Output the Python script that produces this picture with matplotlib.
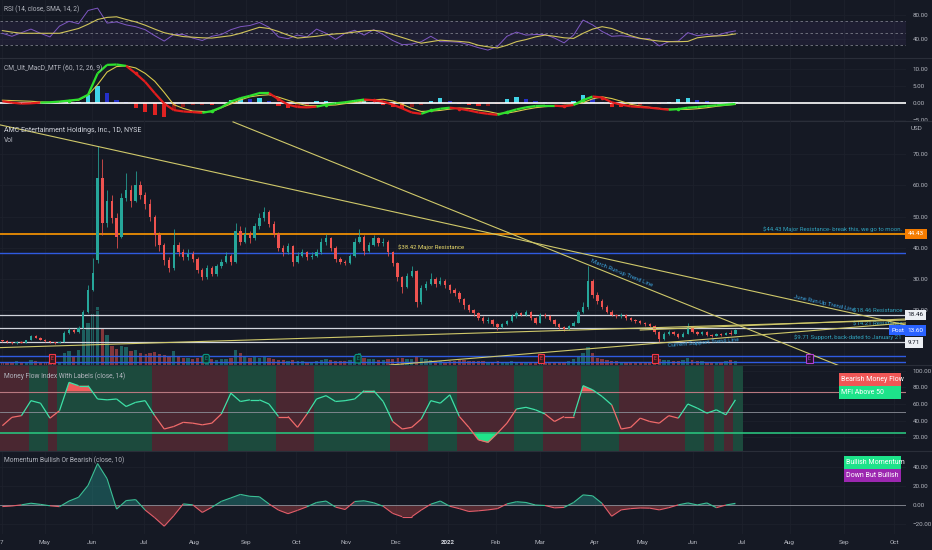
import numpy as np
import matplotlib
matplotlib.use("Agg")
import matplotlib.pyplot as plt
from matplotlib.collections import LineCollection
from matplotlib.patches import Rectangle
from matplotlib.lines import Line2D
from matplotlib import transforms

# ---------------- DATA ----------------
# daily candles (each candle here = 2 sessions), AMC Apr 2021 - Jun 2022
opens = [10.3, 10.1, 9.7, 9.4, 9.8, 9.6, 10.4, 11.6, 11.2, 10.5,
         10.0, 9.7, 9.5, 9.9, 12.8, 13.6, 12.9, 14.2, 19.4, 26.5,
         36.0, 62.5, 48.0, 55.0, 49.5, 43.5, 56.0, 58.5, 55.0, 60.0,
         57.0, 54.0, 50.0, 44.0, 41.0, 36.0, 33.5, 41.0, 38.5, 37.0,
         38.0, 36.5, 33.0, 30.5, 33.5, 31.5, 34.0, 35.5, 37.5, 35.5,
         45.5, 42.0, 44.5, 43.0, 47.0, 49.5, 51.5, 47.5, 44.5, 40.0,
         38.5, 40.5, 35.5, 37.5, 38.5, 37.0, 37.5, 38.5, 42.0, 43.0,
         40.0, 36.5, 35.5, 35.0, 37.5, 42.0, 43.5, 39.0, 41.0, 43.0,
         41.5, 42.0, 38.5, 35.0, 30.5, 27.5, 31.0, 32.5, 22.5, 27.0,
         28.5, 30.0, 28.5, 29.5, 28.0, 26.5, 25.5, 23.5, 21.5, 20.0,
         19.0, 17.5, 16.5, 17.0, 15.5, 14.5, 15.5, 16.5, 18.0, 19.0,
         18.5, 19.5, 17.5, 16.0, 18.5, 18.0, 17.0, 15.5, 14.5, 14.0,
         15.0, 16.0, 19.5, 21.0, 29.5, 25.0, 23.0, 21.0, 19.5, 18.5,
         18.0, 18.5, 17.5, 17.0, 16.5, 16.0, 15.5, 15.0, 13.0, 10.8,
         12.5, 13.0, 12.5, 11.5, 12.5, 14.5, 13.0, 12.5, 13.0, 12.0,
         11.8, 12.3, 12.0, 12.6, 12.4]
closes = [10.1, 9.7, 9.4, 9.8, 9.6, 10.4, 11.6, 11.2, 10.5, 10.0,
          9.7, 9.5, 9.9, 12.8, 13.6, 12.9, 14.2, 19.4, 26.5, 32.0,
          62.5, 48.0, 55.0, 49.5, 43.5, 56.0, 58.5, 55.0, 60.0, 57.0,
          54.0, 50.0, 44.0, 41.0, 36.0, 33.5, 41.0, 38.5, 37.0, 38.0,
          36.5, 33.0, 30.5, 33.5, 31.5, 34.0, 35.5, 37.5, 35.5, 45.5,
          42.0, 44.5, 43.0, 47.0, 49.5, 51.5, 47.5, 44.5, 40.0, 38.5,
          40.5, 35.5, 37.5, 38.5, 37.0, 37.5, 38.5, 42.0, 43.0, 40.0,
          36.5, 35.5, 35.0, 37.5, 42.0, 43.5, 39.0, 41.0, 43.0, 41.5,
          42.0, 38.5, 35.0, 30.5, 27.5, 31.0, 32.5, 22.5, 27.0, 28.5,
          30.0, 28.5, 29.5, 28.0, 26.5, 25.5, 23.5, 21.5, 20.0, 19.0,
          17.5, 16.5, 17.0, 15.5, 14.5, 15.5, 16.5, 18.0, 19.0, 18.5,
          19.5, 17.5, 16.0, 18.5, 18.0, 17.0, 15.5, 14.5, 14.0, 15.0,
          16.0, 19.5, 21.0, 29.5, 25.0, 23.0, 21.0, 19.5, 18.5, 18.0,
          18.5, 17.5, 17.0, 16.5, 16.0, 15.5, 15.0, 13.0, 10.8, 12.5,
          13.0, 12.5, 11.5, 12.5, 14.5, 13.0, 12.5, 13.0, 12.0, 11.8,
          12.3, 12.0, 12.6, 12.4, 13.6]
highs = [10.6, 10.3, 9.9, 10.0, 10.0, 10.6, 12.0, 11.9, 11.3, 10.7,
         10.1, 9.9, 10.1, 13.3, 14.2, 13.9, 14.8, 20.2, 28.0, 36.7,
         72.6, 68.5, 58.5, 57.0, 51.0, 57.5, 64.0, 60.0, 64.5, 61.5,
         58.0, 55.5, 50.5, 45.0, 41.5, 37.0, 46.0, 42.0, 39.5, 39.5,
         38.8, 37.0, 33.5, 34.5, 34.0, 34.8, 36.5, 38.5, 38.0, 48.0,
         47.0, 46.5, 45.5, 48.0, 51.0, 53.0, 52.0, 48.5, 45.0, 41.0,
         41.5, 41.0, 38.5, 39.5, 39.0, 38.5, 39.5, 43.0, 44.3, 43.5,
         40.5, 37.0, 36.0, 38.0, 43.0, 46.0, 44.0, 42.0, 44.0, 43.5,
         43.0, 42.5, 39.0, 35.5, 31.0, 32.0, 34.0, 33.0, 28.0, 29.5,
         32.0, 30.5, 30.5, 30.0, 28.5, 27.0, 26.0, 24.0, 22.0, 20.5,
         19.5, 18.0, 17.8, 17.2, 15.8, 16.0, 17.0, 18.8, 19.8, 19.5,
         20.2, 19.8, 17.8, 19.2, 19.0, 18.3, 17.2, 15.8, 14.8, 15.4,
         16.5, 20.2, 22.5, 34.3, 30.0, 25.8, 23.5, 21.5, 20.0, 18.8,
         19.0, 18.8, 17.8, 17.2, 16.8, 16.2, 15.8, 15.2, 13.2, 13.0,
         13.6, 13.4, 12.8, 13.0, 16.0, 14.8, 13.4, 13.4, 13.2, 12.3,
         12.6, 12.6, 13.0, 13.6, 14.0]
lows = [9.8, 9.5, 9.2, 9.3, 9.4, 9.5, 10.3, 11.0, 10.3, 9.8,
        9.5, 9.2, 9.4, 9.8, 12.5, 12.6, 12.8, 14.0, 19.0, 26.0,
        35.0, 44.0, 46.5, 48.0, 40.0, 43.0, 55.0, 53.0, 54.5, 55.5,
        52.5, 48.5, 40.5, 39.0, 34.5, 32.3, 33.0, 37.5, 36.0, 36.0,
        35.5, 32.0, 29.7, 30.0, 31.0, 31.0, 33.5, 35.0, 34.5, 35.0,
        41.0, 41.5, 41.5, 42.5, 46.0, 48.5, 46.5, 43.5, 39.0, 37.5,
        38.0, 34.0, 35.0, 37.0, 36.0, 36.5, 37.0, 38.0, 41.0, 39.0,
        35.5, 34.8, 34.5, 34.8, 37.0, 41.5, 37.8, 38.5, 40.5, 40.5,
        40.5, 37.5, 34.0, 29.5, 25.5, 27.0, 30.5, 21.0, 22.0, 26.5,
        28.0, 27.5, 28.0, 27.0, 25.5, 24.5, 22.5, 20.5, 19.5, 18.0,
        17.0, 16.0, 16.0, 15.0, 13.6, 14.2, 15.2, 16.2, 17.6, 18.0,
        18.2, 17.0, 15.5, 15.8, 17.5, 16.6, 15.0, 14.0, 13.4, 13.8,
        14.8, 15.8, 19.0, 20.5, 24.0, 22.0, 20.5, 19.0, 18.0, 17.5,
        17.6, 17.0, 16.5, 16.0, 15.5, 15.0, 14.5, 12.5, 9.71, 10.5,
        12.2, 12.0, 11.2, 11.3, 12.3, 12.6, 12.1, 12.2, 11.7, 11.4,
        11.6, 11.7, 11.9, 12.2, 12.3]
volumes = [70, 60, 55, 80, 60, 75, 110, 90, 70, 60,
           55, 60, 65, 250, 300, 200, 320, 750, 900, 1100,
           1250, 800, 650, 400, 350, 420, 380, 300, 320, 260,
           230, 250, 280, 240, 220, 200, 300, 180, 150, 160,
           140, 150, 170, 140, 120, 110, 130, 140, 150, 330,
           260, 200, 150, 170, 160, 180, 150, 120, 110, 100,
           95, 110, 90, 80, 75, 70, 80, 110, 140, 100,
           90, 80, 85, 100, 200, 250, 150, 130, 140, 110,
           100, 120, 130, 150, 160, 140, 130, 200, 150, 120,
           110, 90, 80, 75, 80, 90, 100, 110, 95, 90,
           85, 80, 75, 70, 85, 70, 75, 80, 70, 65,
           60, 65, 60, 70, 60, 55, 60, 65, 70, 90,
           120, 200, 250, 380, 260, 150, 120, 100, 90, 80,
           75, 70, 65, 60, 60, 55, 60, 90, 140, 110,
           100, 90, 80, 100, 160, 110, 90, 80, 75, 70,
           70, 75, 80, 110, 95]

# indicators, one value every 2 candles
rsi = [50, 45, 51, 57, 50, 44, 62, 70, 66, 88,
       92, 67, 69, 64, 61, 56, 46, 37, 48, 48,
       42, 38, 45, 48, 56, 61, 63, 68, 60, 44,
       41, 47, 44, 57, 50, 40, 50, 55, 47, 56,
       48, 38, 31, 32, 36, 45, 36, 36, 35, 31,
       26, 22, 28, 45, 52, 47, 48, 48, 42, 34,
       47, 72, 64, 53, 45, 46, 44, 41, 41, 29,
       36, 37, 51, 46, 48, 46, 51, 54]
rsi_sma = [54.5, 52, 50, 50, 50, 50, 50, 54, 58, 65,
           73, 76.5, 77.5, 73, 69, 63.5, 57, 51, 47.5, 44.5,
           43.5, 42.5, 42, 44, 46, 50, 55, 60, 58, 53,
           47, 42, 43.5, 45, 47.5, 49, 50, 52, 54, 55,
           53, 48, 43, 38, 33.5, 36, 38.5, 37.5, 36.5, 35,
           30, 27.5, 25.5, 30, 36, 39.5, 44, 47, 45, 42.5,
           41.5, 50, 57, 61, 58, 52, 46, 41.6, 39, 37,
           36, 36, 36.5, 42.5, 44.5, 45.5, 46.5, 49]
macd = [0.6, 0.2, -0.1, 0.0, 0.2, 0.3, 0.5, 0.8, 1.1, 2.5,
        8.8, 11.3, 11.4, 11.0, 8.8, 6.3, 3.0, -0.1, -2.0, -2.4,
        -2.6, -2.8, -2.3, -1.2, 0.5, 1.5, 2.2, 3.0, 3.0, 1.2,
        -0.4, -1.1, -1.2, -1.0, -0.4, 0.0, 0.3, 0.7, 1.1, 0.9,
        0.5, -0.4, -1.5, -2.7, -3.1, -2.1, -1.6, -1.3, -1.6, -2.1,
        -2.7, -3.1, -3.4, -2.6, -1.8, -1.2, -0.8, -0.7, -0.7, -0.9,
        -0.5, 0.9, 2.0, 1.7, 0.3, -0.4, -0.9, -1.1, -1.3, -1.6,
        -1.9, -1.7, -1.3, -1.1, -0.8, -0.6, -0.4, -0.2]
signal = [0.9, 0.8, 0.7, 0.6, 0.4, 0.3, 0.5, 0.7, 0.9, 2.4,
          5.5, 9.2, 10.8, 11.0, 10.4, 8.8, 6.5, 3.2, -0.4, -1.5,
          -2.3, -2.4, -2.5, -1.3, -0.2, 1.0, 1.9, 2.3, 2.5, 1.8,
          0.9, 0.0, -0.7, -0.7, -0.6, -0.5, -0.1, 0.3, 0.7, 1.0,
          1.2, 0.7, -0.3, -1.5, -2.4, -2.3, -2.1, -1.7, -1.4, -1.5,
          -2.0, -2.4, -3.0, -2.9, -2.4, -1.8, -1.3, -1.0, -0.8, -0.6,
          -0.4, 0.2, 1.3, 1.9, 1.4, 0.6, -0.3, -0.8, -1.2, -1.5,
          -1.7, -1.8, -1.8, -1.6, -1.3, -0.9, -0.6, -0.3]
hist = [0.0, -0.2, -0.3, 0.2, 0.1, 0.0, 0.2, 0.3, 0.5, 2.5,
        5.2, 3.0, 1.0, 0.5, -1.5, -2.5, -3.5, -3.9, -2.0, -1.0,
        -0.5, -0.4, -0.4, 0.2, 1.0, 1.5, 1.2, 1.6, 0.8, -0.8,
        -1.4, -1.0, -0.4, 0.6, 0.8, 0.4, 0.5, 1.0, 1.1, 0.3,
        -0.6, -1.2, -1.4, -1.2, -0.5, 0.8, 1.5, 0.6, -0.3, -0.6,
        -0.9, -0.8, -0.3, 1.2, 1.8, 1.2, 0.6, 0.4, 0.2, -0.3,
        0.6, 2.5, 1.2, 0.4, -1.0, -1.0, -0.6, -0.4, -0.2, -0.2,
        0.3, 1.2, 1.6, 0.9, 0.6, 0.5, 0.4, 0.5]
mfi = [34, 44, 46, 64, 61, 43, 52, 86, 82, 82,
       66, 65, 66, 57, 62, 64, 46, 30, 33, 38,
       37, 35, 37, 48, 73, 63, 65, 65, 60, 45,
       45, 32, 48, 66, 70, 63, 64, 66, 76, 76,
       63, 39, 30, 32, 42, 64, 61, 71, 45, 32,
       17, 14, 25, 37, 54, 56, 53, 48, 39, 45,
       45, 82, 77, 69, 59, 30, 32, 43, 39, 37,
       46, 43, 60, 55, 49, 53, 47, 65]
momentum = [-1.3, -0.7, 0.5, 2.2, 1.0, -0.5, -1.4, 4.5, 8.5, 21,
            44, 28, -4, 5, 6, -5, -13, -22, -11, 1.5,
            0.5, -7.5, -2, 4.2, 7.8, 11.5, 9.5, 9, 1.5, -5,
            -8.8, -5.3, -1.5, 3, 4.5, -1.9, -4.4, 4, 4.8, 2.7,
            -1, -8.5, -12, -12, -5, 1.2, 4.5, -1, -3.5, -6.5,
            -5.8, -4.8, -3.5, 1.5, 3.8, 3, 0.3, -0.2, -2.7, -2.2,
            3, 11, 10, 2, -11.5, -4.8, -3.5, -2.8, -3, -4.8,
            -2.5, 0.5, 2.5, 0.4, 2.5, -2.5, 0.3, 2.1]

month_labels = ['7', 'May', 'Jun', 'Jul', 'Aug', 'Sep', 'Oct', 'Nov', 'Dec', '2022',
                'Feb', 'Mar', 'Apr', 'May', 'Jun', 'Jul', 'Aug', 'Sep', 'Oct']
month_pos = [0.4, 9.4, 19.4, 30.3, 40.8, 51.7, 62.2, 72.7, 83.1, 94.1,
             104.1, 113.5, 125.0, 135.0, 145.5, 155.9, 165.9, 177.4, 187.8]

# horizontal price levels
level_prices = [44.43, 38.42, 18.46, 14.21, 9.71, 5.30, 3.50]
level_kinds = ['orange', 'blue', 'white', 'white', 'white', 'blue', 'blue']

# trend line anchors (bar, price)
trend_x0 = [0.0, 48.95, 0.0, 81.9, 134.5]
trend_p0 = [79.36, 80.32, 8.01, 2.44, 13.65]
trend_x1 = [190.3, 176.5, 190.3, 190.3, 190.3]
trend_p1 = [15.26, 2.08, 16.86, 15.9, 17.18]
trend_names = ['June Run-Up Trend Line', 'March Run-up Trend Line', None,
               'Current Support Trend Line', None]

# earnings events (bar position, kind)
event_bars = [10.9, 43.3, 75.2, 113.7, 137.6, 170.0]
event_kinds = ['miss', 'beat', 'beat', 'miss', 'miss', 'future']

# ---------------- STYLE ----------------
plt.rcParams['font.family'] = ['Roboto', 'DejaVu Sans']
BG = '#151924'
GRID = '#1d212c'
SEP = '#2a2e39'
TXT = '#b2b5be'
UP = '#26a69a'
DN = '#ef5350'
TL = '#cfc86a'
LBL = '#31a3bd'

W, H = 932, 550
PLOT_R = 906
XMAX = PLOT_R / 4.76
fig = plt.figure(figsize=(W / 100, H / 100), dpi=100, facecolor=BG)


def fmt(v):
    return ('%.2f' % v).replace('-', '\u2212')


def make_ax(top, bottom, ylim, ticks, z=1):
    ax = fig.add_axes([0, 1 - bottom / H, PLOT_R / W, (bottom - top) / H], zorder=z)
    ax.set_facecolor(BG)
    ax.set_xlim(0, XMAX)
    ax.set_ylim(*ylim)
    for s in ax.spines.values():
        s.set_visible(False)
    ax.yaxis.tick_right()
    ax.set_yticks(ticks)
    ax.set_yticklabels([fmt(t) for t in ticks])
    ax.tick_params(axis='y', length=0, pad=5, labelsize=4.5, labelcolor=TXT)
    ax.tick_params(axis='x', length=0, labelbottom=False)
    ax.set_xticks(month_pos)
    ax.grid(True, color=GRID, lw=0.6)
    ax.set_axisbelow(True)
    return ax


xc = np.arange(len(closes)) + 0.5
xi = np.arange(len(rsi)) * 2 + 0.5

# ---------------- RSI ----------------
ax_rsi = make_ax(0, 58, (8.8, 105.5), [80, 40])
ax_rsi.axhspan(30, 70, color='#7e57c2', alpha=0.09, lw=0)
for lv in (70, 50, 30):
    ax_rsi.axhline(lv, color='#787b86', lw=0.6, ls=(0, (3, 3)))
ax_rsi.plot(xi, rsi, color='#7e57c2', lw=0.7)
ax_rsi.plot(xi, rsi_sma, color='#cfc35a', lw=0.8)

# ---------------- MACD ----------------
ax_m = make_ax(58, 121, (-5.21, 13.32), [10, 5, 0, -5])
h = np.array(hist)
hcol = []
for i, v in enumerate(h):
    prev = h[i - 1] if i > 0 else 0
    if v >= 0:
        hcol.append('#40d4e8' if v >= prev else '#2430c8')
    else:
        hcol.append('#e02222' if v <= prev else '#8a1818')
ax_m.bar(xi, h, width=0.9, color=hcol, lw=0, zorder=2)
ax_m.axhline(0, color='white', lw=1.2, zorder=3)
ax_m.plot(xi, signal, color='#d8c84a', lw=0.8, zorder=4)
mc = np.array(macd)
sg = np.array(signal)
d = mc - sg
pts = np.column_stack([xi, mc])
segs = np.stack([pts[:-1], pts[1:]], axis=1)
segcol = ['#2ee02e' if d[i + 1] >= 0 else '#e21d1d' for i in range(len(segs))]
ax_m.add_collection(LineCollection(segs, colors=segcol, lw=1.6, zorder=5))
for i in range(1, len(d)):
    if np.sign(d[i]) != np.sign(d[i - 1]) and d[i] != 0:
        ax_m.plot(xi[i], mc[i], 'o', ms=2.6, color='#2ee02e' if d[i] > 0 else '#e21d1d',
                  zorder=6, mec='none')

# ---------------- MAIN ----------------
ylim_main = (2.44, 80.6)
ax_v = make_ax(121, 365, (0, 5260), [], z=1)
ax_v.grid(False)
ax_v.set_yticks([])
ax = make_ax(121, 365, ylim_main, [20, 30, 40, 50, 60, 70], z=2)
ax.set_facecolor('none')

o = np.array(opens); c = np.array(closes); hi = np.array(highs); lo = np.array(lows)
col = np.where(c >= o, UP, DN)
ax_v.bar(xc, volumes, width=0.7, color=col, alpha=0.5, lw=0)
ax.vlines(xc, lo, hi, colors=col, lw=0.55, zorder=4)
ax.bar(xc, np.maximum(np.abs(c - o), 0.15), bottom=np.minimum(o, c), width=0.5,
       color=col, lw=0, zorder=4)

lvl_style = {'orange': ('#ff9800', 1.2), 'blue': ('#2f5be0', 1.0), 'white': ('#d1d4dc', 0.9)}
for p, k in zip(level_prices, level_kinds):
    cl, lw = lvl_style[k]
    ax.axhline(p, color=cl, lw=lw, zorder=3)

for x0, p0, x1, p1 in zip(trend_x0, trend_p0, trend_x1, trend_p1):
    ax.plot([x0, x1], [p0, p1], color=TL, lw=0.8, zorder=5)


def screen_angle(a, x0, y0, x1, y1):
    q0 = a.transData.transform((x0, y0))
    q1 = a.transData.transform((x1, y1))
    return np.degrees(np.arctan2(q1[1] - q0[1], q1[0] - q0[0]))


label_at = {0: (173.1, 1.1), 1: (130.5, 1.6), 3: (147.7, -1.0)}
for idx, (lx, off) in label_at.items():
    x0, p0, x1, p1 = trend_x0[idx], trend_p0[idx], trend_x1[idx], trend_p1[idx]
    py = p0 + (lx - x0) * (p1 - p0) / (x1 - x0)
    ang = screen_angle(ax, x0, p0, x1, p1)
    ax.text(lx, py + off, trend_names[idx], rotation=ang, rotation_mode='anchor',
            ha='center', va='center', fontsize=4.3, color='#3b9fd8', zorder=6)

bt = transforms.blended_transform_factory(ax.transAxes, ax.transData)
rx = 902 / PLOT_R
ax.text(rx, 44.43 + 0.6, '$44.43 Major Resistance- break this, we go to moon.', transform=bt,
        ha='right', va='bottom', fontsize=4.3, color=LBL, zorder=6)
ax.text(83.6, 38.42 + 0.7, '$38.42 Major Resistance', ha='left', va='bottom',
        fontsize=4.3, color='#e8d96a', zorder=6)
ax.text(rx, 18.46 + 0.5, '$18.46 Resistance', transform=bt, ha='right', va='bottom',
        fontsize=4.3, color=LBL, zorder=6)
ax.text(rx, 14.21 + 0.5, '$14.21 Resistance', transform=bt, ha='right', va='bottom',
        fontsize=4.3, color=LBL, zorder=4)
ax.text(rx, 9.71 + 0.6, '$9.71 Support, back-dated to January 21', transform=bt,
        ha='right', va='bottom', fontsize=4.3, color=LBL, zorder=6)

# earnings markers
ev_style = {'miss': ('#f23645', '#3a1a22', 'square,pad=0.35'),
            'beat': ('#089981', '#0f2e2c', 'round,pad=0.35'),
            'future': ('#b040d0', '#2a1235', 'square,pad=0.45')}
et = transforms.blended_transform_factory(ax.transData, ax.transAxes)
for ex, ek in zip(event_bars, event_kinds):
    ec, fc, bs = ev_style[ek]
    ax.text(ex, 0.026, 'E', transform=et, ha='center', va='center', fontsize=3.6,
            color=ec, zorder=7, bbox=dict(boxstyle=bs, fc=fc, ec=ec, lw=0.8))

# right-scale tags
tx = 1 + 1.5 / PLOT_R
for p, lab, fc, tc in [(44.43, '44.43', '#f57c00', 'white'),
                       (18.46, '18.46', '#eceff4', '#131722'),
                       (9.71, '9.71', '#eceff4', '#131722'),
                       (13.60, '13.60', '#2962ff', 'white')]:
    ax.text(tx, p, lab, transform=bt, ha='left', va='center', fontsize=4.6, color=tc,
            zorder=8, clip_on=False,
            bbox=dict(boxstyle='square,pad=0.45', fc=fc, ec='none'))
ax.text(892 / PLOT_R, 13.60, 'Post', transform=bt, ha='left', va='center', fontsize=4.6,
        color='white', zorder=8, bbox=dict(boxstyle='square,pad=0.4', fc='#2962ff', ec='none'))

# ---------------- MFI ----------------
ax_f = make_ax(365, 451, (3.6, 106.8), [100, 80, 60, 40, 20])
mf = np.array(mfi, dtype=float)
ylo, yhi = ax_f.get_ylim()
band_col = np.where(mf >= 50, '#1c4a3d', '#4a2731')
ax_f.bar(xi + 0.5, yhi - ylo, bottom=ylo, width=2.0, color=band_col, lw=0, zorder=1)
ax_f.axhline(75, color='#b87880', lw=0.8, zorder=2)
ax_f.axhline(50, color='#8c8f99', lw=0.6, zorder=2)
ax_f.axhline(25, color='#29c07c', lw=1.2, zorder=2)
ax_f.fill_between(xi, mf, 75, where=mf > 75, interpolate=True, color='#f05a5a', lw=0, zorder=3)
ax_f.fill_between(xi, mf, 25, where=mf < 25, interpolate=True, color='#20e58a', lw=0, zorder=3)
pts = np.column_stack([xi, mf])
segs = np.stack([pts[:-1], pts[1:]], axis=1)
scol = ['#3ee0a6' if (mf[i] + mf[i + 1]) / 2 >= 50 else '#f06a6a' for i in range(len(segs))]
ax_f.add_collection(LineCollection(segs, colors=scol, lw=0.9, zorder=4))

# ---------------- MOMENTUM ----------------
ax_mo = make_ax(451, 534, (-30.2, 57.2), [40, 20, 0, -20])
mo = np.array(momentum, dtype=float)
ax_mo.axhline(0, color='#8c8f99', lw=0.6, zorder=2)
ax_mo.fill_between(xi, mo, 0, where=mo >= 0, interpolate=True, color='#26a69a', alpha=0.35, lw=0)
ax_mo.fill_between(xi, mo, 0, where=mo < 0, interpolate=True, color='#ef5350', alpha=0.3, lw=0)
pts = np.column_stack([xi, mo])
segs = np.stack([pts[:-1], pts[1:]], axis=1)
scol = ['#3bbf95' if (mo[i] + mo[i + 1]) / 2 >= 0 else '#e35d6a' for i in range(len(segs))]
ax_mo.add_collection(LineCollection(segs, colors=scol, lw=0.8, zorder=4))
ax_mo.set_xticklabels(month_labels)
ax_mo.tick_params(axis='x', labelbottom=True, labelsize=4.5, labelcolor=TXT, pad=4)
for t in ax_mo.get_xticklabels():
    if t.get_text() == '2022':
        t.set_fontweight('bold')
        t.set_color('#d1d4dc')

# ---------------- FIGURE DECOR ----------------
for y in (58, 121, 365, 451):
    fig.add_artist(Line2D([0, 1], [1 - y / H] * 2, transform=fig.transFigure, color=SEP, lw=0.8))


def ftext(x, y, s, **kw):
    fig.text(x / W, 1 - y / H, s, va='center', ha='left', **kw)


ftext(4, 9, 'RSI (14, close, SMA, 14, 2)', fontsize=4.8, color=TXT)
ftext(4, 68, 'CM_Ult_MacD_MTF (60, 12, 26, 9)', fontsize=4.8, color=TXT)
ftext(4, 131, 'AMC Entertainment Holdings, Inc., 1D, NYSE', fontsize=5.0, color='#d1d4dc')
ftext(4, 140, 'Vol', fontsize=4.8, color=TXT)
ftext(4, 376.5, 'Money Flow Index With Labels (close, 14)', fontsize=4.8, color=TXT)
ftext(4, 460, 'Momentum Bullish Or Bearish (close, 10)', fontsize=4.8, color=TXT)
ftext(911, 128.5, 'USD', fontsize=4.5, color=TXT)


def legend_box(x0, y0, x1, y1, color, label):
    fig.add_artist(Rectangle((x0 / W, 1 - y1 / H), (x1 - x0) / W, (y1 - y0) / H,
                             transform=fig.transFigure, color=color, lw=0, zorder=10))
    t = fig.text((x0 + 2.5) / W, 1 - (y0 + y1) / 2 / H, label, va='center', ha='left',
                 fontsize=5.0, color='white')
    t.set_zorder(11)


legend_box(838.7, 372.7, 901, 385.5, '#f05656', 'Bearish Money Flow')
legend_box(838.7, 385.5, 901, 399, '#1de38a', 'MFI Above 50')
legend_box(843.7, 456, 901, 468.5, '#1de38a', 'Bullish Momentum')
legend_box(843.7, 468.5, 901, 482, '#9c27b0', 'Down But Bullish')

fig.savefig('out.png', dpi=100, facecolor=BG)
